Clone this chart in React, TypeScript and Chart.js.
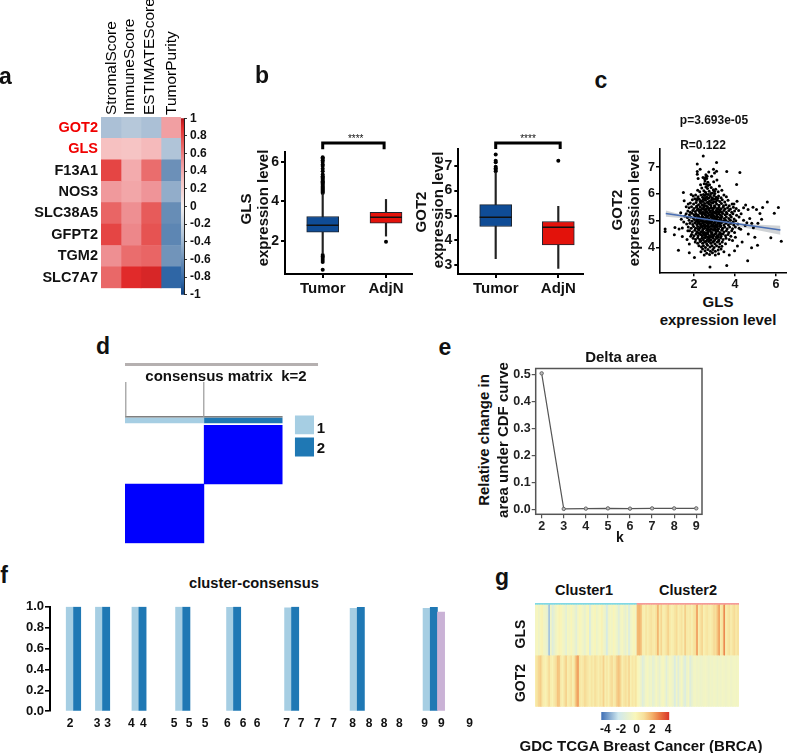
import { useEffect, useRef } from 'react';
import Chart from 'chart.js/auto';

Chart.defaults.font.family = '"Liberation Sans", Arial, sans-serif';
Chart.defaults.color = '#111';

// panel a: correlation with the ESTIMATE scores
const genes = ['GOT2', 'GLS', 'F13A1', 'NOS3', 'SLC38A5', 'GFPT2', 'TGM2', 'SLC7A7'];
const scoreNames = ['StromalScore', 'ImmuneScore', 'ESTIMATEScore', 'TumorPurity'];
const stromal = [-0.35, 0.3, 0.8, 0.48, 0.68, 0.8, 0.52, 0.67];
const immune = [-0.3, 0.28, 0.4, 0.42, 0.52, 0.55, 0.65, 0.9];
const estimate = [-0.35, 0.33, 0.65, 0.5, 0.72, 0.75, 0.68, 0.92];
const purity = [0.45, -0.33, -0.6, -0.45, -0.62, -0.66, -0.58, -0.85];
const corrTicks = [1, 0.8, 0.6, 0.4, 0.2, 0, -0.2, -0.4, -0.6, -0.8, -1];

// panel b: box plots, [low whisker, q1, median, q3, high whisker]
const boxGroups = ['Tumor', 'AdjN'];
const glsTumorBox = [1.38, 2.45, 2.8, 3.24, 4.38];
const glsAdjBox = [2.25, 2.9, 3.2, 3.45, 4.1];
const glsTumorOutliers = [0.55, 0.95, 1.05, 1.15, 1.22, 1.3, 4.42, 4.47, 4.52, 4.57, 4.62, 4.68, 4.73, 4.78, 4.84, 4.9, 4.96, 5.02, 5.08, 5.14, 5.2, 5.27, 5.36, 5.52, 5.64, 5.78, 5.86, 5.98, 6.08, 6.16, 6.22];
const glsAdjOutliers = [1.96];
const got2TumorBox = [3.27, 4.56, 4.93, 5.44, 6.72];
const got2AdjBox = [2.87, 3.82, 4.53, 4.76, 5.37];
const got2TumorOutliers = [6.78, 6.84, 6.9, 6.96, 7.14, 7.2, 7.45];
const got2AdjOutliers = [7.2];

// panel c: GLS against GOT2 per sample, [GLS, GOT2]
const samples = [
  [0.59, 4.69], [0.59, 4.6], [1.07, 4.75], [1.04, 4.47], [1.27, 4.69], [1.43, 4.73], [1.43, 4.41], [1.24, 3.89], [1.77, 4.13], [1.77, 3.8],
  [2.02, 3.62], [2.78, 3.27], [3.6, 3.32], [4.62, 3.5], [4.81, 3.99], [5.1, 4.08], [4.97, 4.38], [5.75, 4.36], [6.26, 4.23], [5.92, 5.28],
  [6.12, 5.49], [5.58, 5.7], [5.22, 5.27], [5.35, 5.49], [5.3, 5.05], [5.05, 5.42], [4.52, 5.59], [4.1, 5.73], [2.45, 7.42], [2.16, 7.12],
  [2.16, 6.84], [2.16, 6.74], [3.1, 7.18], [2.95, 6.92], [3.1, 6.85], [3, 6.78], [3.6, 6.84], [4.24, 6.8], [4.08, 6.35], [1.48, 6.05],
  [1.52, 5.75], [1.35, 5.3], [1.62, 5.52], [1.55, 5.18], [1.72, 5.62], [1.38, 5.05], [1.7, 4.62], [1.5, 4.95], [1.66, 4.3], [1.84, 4.42],
  [4.42, 5.48], [4.64, 5.42], [4.3, 5.26], [4.72, 5.08], [4.88, 5.5], [4.5, 4.82], [4.9, 4.74], [4.65, 4.5], [4.35, 4.2], [4.12, 4.05],
  [4.28, 4.68], [4.58, 4.92], [4.82, 4.9], [5.12, 4.9], [4.42, 5.02], [4.18, 5.38], [3.95, 5.62], [4.02, 4.38], [3.98, 3.88], [3.72, 3.72],
  [2.3, 6.92], [2.58, 6.72], [2.72, 6.82], [2.86, 6.66], [2.44, 6.62], [2.62, 6.58], [2.54, 6.48], [2.68, 6.44], [2.5, 6.38], [2.76, 6.34],
  [2.2, 6.58], [2.32, 6.34], [2.96, 6.46], [3.12, 6.52], [3.24, 6.3], [2.38, 6.22], [2.58, 6.26], [2.66, 6.2], [2.84, 6.24], [2.94, 6.16],
  [3.06, 6.18], [2.18, 6.14], [2.28, 6.08], [2.48, 6.12], [2.56, 6.06], [2.74, 6.1], [2.9, 6.04], [3.02, 6.02], [3.18, 6.08], [3.36, 6.14],
  [1.86, 5.98], [1.96, 5.92], [2.08, 5.96], [2.2, 5.9], [2.34, 5.96], [2.42, 5.88], [2.52, 5.94], [2.62, 5.9], [2.7, 5.98], [2.8, 5.92],
  [2.88, 5.86], [2.98, 5.94], [3.08, 5.88], [3.2, 5.92], [3.32, 5.86], [3.46, 5.96], [3.58, 5.9], [1.92, 5.78], [2.04, 5.82], [2.14, 5.76],
  [2.26, 5.8], [2.36, 5.74], [2.46, 5.8], [2.56, 5.76], [2.66, 5.82], [2.76, 5.74], [2.86, 5.78], [2.96, 5.72], [3.04, 5.8], [3.14, 5.76],
  [3.26, 5.72], [3.38, 5.78], [3.5, 5.7], [3.66, 5.76], [1.82, 5.66], [1.98, 5.62], [2.1, 5.68], [2.22, 5.6], [2.32, 5.66], [2.42, 5.58],
  [2.52, 5.64], [2.6, 5.56], [2.72, 5.62], [2.82, 5.58], [2.92, 5.66], [3, 5.56], [3.1, 5.62], [3.22, 5.58], [3.34, 5.64], [3.44, 5.56],
  [3.56, 5.6], [3.72, 5.56], [3.86, 5.62], [1.76, 5.48], [1.88, 5.52], [2, 5.46], [2.12, 5.5], [2.2, 5.44], [2.3, 5.52], [2.38, 5.46],
  [2.48, 5.5], [2.58, 5.44], [2.66, 5.52], [2.76, 5.46], [2.84, 5.5], [2.94, 5.44], [3.02, 5.52], [3.12, 5.46], [3.22, 5.5], [3.32, 5.44],
  [3.42, 5.5], [3.52, 5.44], [3.64, 5.48], [3.78, 5.44], [3.92, 5.5], [4.06, 5.46], [1.7, 5.36], [1.82, 5.32], [1.94, 5.38], [2.06, 5.34],
  [2.16, 5.4], [2.26, 5.34], [2.34, 5.38], [2.44, 5.32], [2.54, 5.38], [2.62, 5.34], [2.72, 5.4], [2.8, 5.32], [2.9, 5.38], [2.98, 5.32],
  [3.08, 5.38], [3.16, 5.34], [3.26, 5.4], [3.36, 5.32], [3.46, 5.38], [3.58, 5.32], [3.7, 5.38], [3.84, 5.32], [3.98, 5.36], [1.62, 5.26],
  [1.78, 5.22], [1.9, 5.28], [2, 5.22], [2.1, 5.26], [2.2, 5.2], [2.3, 5.28], [2.4, 5.22], [2.48, 5.27], [2.58, 5.2], [2.68, 5.28],
  [2.76, 5.22], [2.86, 5.26], [2.94, 5.2], [3.04, 5.28], [3.12, 5.22], [3.22, 5.26], [3.3, 5.2], [3.4, 5.27], [3.52, 5.22], [3.62, 5.26],
  [3.76, 5.2], [3.9, 5.26], [4.08, 5.2], [4.2, 5.14], [1.68, 5.12], [1.84, 5.14], [1.96, 5.1], [2.06, 5.16], [2.16, 5.1], [2.26, 5.14],
  [2.36, 5.08], [2.44, 5.14], [2.54, 5.1], [2.64, 5.16], [2.72, 5.08], [2.82, 5.14], [2.9, 5.1], [3, 5.16], [3.08, 5.08], [3.18, 5.14],
  [3.28, 5.1], [3.36, 5.16], [3.48, 5.08], [3.58, 5.14], [3.7, 5.08], [3.82, 5.14], [3.96, 5.06], [1.76, 5.02], [1.9, 4.98], [2.02, 5.04],
  [2.12, 4.98], [2.22, 5.04], [2.32, 4.98], [2.4, 5.02], [2.5, 4.96], [2.6, 5.04], [2.68, 4.98], [2.78, 5.02], [2.86, 4.96], [2.96, 5.04],
  [3.04, 4.98], [3.14, 5.02], [3.24, 4.96], [3.32, 5.04], [3.44, 4.98], [3.54, 5.02], [3.66, 4.96], [3.78, 5.02], [3.92, 4.96], [4.04, 5],
  [1.64, 4.88], [1.8, 4.9], [1.94, 4.86], [2.04, 4.92], [2.14, 4.86], [2.24, 4.9], [2.34, 4.84], [2.42, 4.9], [2.52, 4.86], [2.62, 4.92],
  [2.7, 4.84], [2.8, 4.9], [2.88, 4.86], [2.98, 4.92], [3.06, 4.84], [3.16, 4.9], [3.26, 4.86], [3.34, 4.92], [3.46, 4.84], [3.56, 4.9],
  [3.68, 4.84], [3.8, 4.9], [3.94, 4.84], [4.14, 4.88], [1.72, 4.76], [1.86, 4.72], [1.98, 4.78], [2.08, 4.72], [2.18, 4.78], [2.28, 4.72],
  [2.38, 4.76], [2.46, 4.7], [2.56, 4.78], [2.66, 4.72], [2.74, 4.76], [2.84, 4.7], [2.92, 4.78], [3.02, 4.72], [3.12, 4.76], [3.2, 4.7],
  [3.3, 4.78], [3.4, 4.72], [3.5, 4.76], [3.62, 4.7], [3.74, 4.76], [3.88, 4.7], [4.02, 4.76], [4.2, 4.72], [1.78, 4.62], [1.92, 4.58],
  [2.04, 4.64], [2.14, 4.58], [2.24, 4.64], [2.34, 4.58], [2.42, 4.62], [2.52, 4.56], [2.62, 4.64], [2.7, 4.58], [2.8, 4.62], [2.88, 4.56],
  [2.98, 4.64], [3.08, 4.58], [3.16, 4.62], [3.26, 4.56], [3.36, 4.64], [3.46, 4.58], [3.58, 4.62], [3.7, 4.56], [3.84, 4.62], [3.98, 4.56],
  [1.88, 4.48], [2, 4.44], [2.1, 4.5], [2.2, 4.44], [2.3, 4.5], [2.4, 4.44], [2.48, 4.48], [2.58, 4.42], [2.68, 4.5], [2.76, 4.44],
  [2.86, 4.48], [2.94, 4.42], [3.04, 4.5], [3.14, 4.44], [3.22, 4.48], [3.32, 4.42], [3.42, 4.5], [3.54, 4.44], [3.66, 4.48], [3.8, 4.42],
  [1.96, 4.34], [2.08, 4.3], [2.18, 4.36], [2.28, 4.3], [2.38, 4.34], [2.46, 4.28], [2.56, 4.36], [2.66, 4.3], [2.74, 4.34], [2.84, 4.28],
  [2.92, 4.36], [3.02, 4.3], [3.12, 4.34], [3.22, 4.28], [3.3, 4.36], [3.42, 4.3], [3.56, 4.34], [3.72, 4.3], [3.88, 4.26], [2.06, 4.2],
  [2.18, 4.16], [2.3, 4.22], [2.42, 4.16], [2.52, 4.2], [2.62, 4.14], [2.72, 4.22], [2.82, 4.16], [2.92, 4.2], [3.02, 4.14], [3.14, 4.2],
  [3.26, 4.14], [3.38, 4.2], [3.54, 4.14], [2.24, 4.06], [2.36, 4.02], [2.46, 4.06], [2.56, 4], [2.66, 4.08], [2.78, 4.02], [2.88, 4.06],
  [2.98, 4], [3.1, 4.06], [3.22, 4.02], [3.36, 4.04], [2.42, 3.94], [2.54, 3.88], [2.68, 3.92], [2.8, 3.86], [2.92, 3.92], [3.04, 3.86],
  [3.18, 3.9], [3.32, 3.94], [2.62, 3.78], [2.76, 3.74], [2.9, 3.8], [3.04, 3.72], [3.2, 3.76], [3.46, 3.84], [2.5, 3.72], [2.34, 3.84],
  [2.35, 5.04], [2.55, 5.22], [2.75, 4.94], [2.95, 5.32], [2.45, 4.8], [2.65, 4.66], [2.85, 5.18], [3.05, 4.66], [2.25, 4.96], [2.5, 5.56],
  [2.7, 5.7], [2.9, 5.46], [3.1, 5.06], [3.3, 4.82], [2.15, 5.02], [2.6, 4.5], [2.8, 4.4], [3, 4.78], [3.2, 5.3], [2.4, 5.6],
  [2.13, 5.55], [2.27, 5.41], [2.37, 5.29], [2.47, 5.43], [2.57, 5.31], [2.67, 5.47], [2.79, 5.35], [2.89, 5.25], [2.99, 5.49], [3.09, 5.31],
  [3.19, 5.43], [3.29, 5.33], [2.17, 5.19], [2.29, 5.09], [2.39, 5.15], [2.51, 5.05], [2.61, 5.13], [2.71, 5.19], [2.81, 5.03], [2.91, 5.17],
  [3.01, 5.09], [3.11, 5.17], [3.21, 5.03], [3.33, 5.11], [2.19, 4.93], [2.31, 4.87], [2.41, 4.97], [2.49, 4.83], [2.59, 4.95], [2.69, 4.89],
  [2.83, 4.97], [2.93, 4.85], [3.03, 4.93], [3.13, 4.83], [3.23, 4.91], [3.35, 4.97], [2.21, 4.69], [2.33, 4.79], [2.43, 4.67], [2.53, 4.73],
  [2.63, 4.81], [2.73, 4.67], [2.83, 4.79], [2.93, 4.67], [3.03, 4.81], [3.15, 4.67], [3.25, 4.79], [3.37, 4.67], [2.23, 4.53], [2.35, 4.47],
  [2.45, 4.55], [2.55, 4.47], [2.65, 4.55], [2.73, 4.39], [2.85, 4.55], [2.97, 4.47], [3.07, 4.53], [3.19, 4.39], [3.31, 4.51], [2.33, 4.25],
  [2.49, 4.37], [2.59, 4.23], [2.69, 4.39], [2.79, 4.27], [2.89, 4.39], [2.99, 4.25], [3.09, 4.39], [3.19, 4.23], [2.44, 5.72], [2.54, 5.84],
  [2.64, 5.68], [2.74, 5.86], [2.84, 5.68], [2.94, 5.82], [3.06, 5.7], [3.16, 5.84], [2.3, 5.72], [2.18, 5.84], [2.6, 6], [2.82, 6.02],
  [2.46, 5.98], [3, 6.1], [2.68, 6.32], [2.6, 6.36], [2.52, 6.56], [2.56, 6.62], [2.64, 6.66],
];
const fitLine = [[0.62, 5.27], [6.22, 4.65]];
const fitUpper = [[0.62, 5.38], [1.5, 5.2], [2.8, 5.04], [4, 4.92], [5, 4.86], [6.22, 4.81]];
const fitLower = [[0.62, 5.15], [1.5, 5.09], [2.8, 4.98], [4, 4.8], [5, 4.66], [6.22, 4.47]];

// panel e: consensus delta area
const deltaK = [2, 3, 4, 5, 6, 7, 8, 9];
const deltaArea = [0.505, 0.002, 0.003, 0.004, 0.003, 0.004, 0.004, 0.004];

// panel f: cluster consensus, bar positions are in bar widths from the axis
const clusterSlots = [2.75, 3.77, 6.81, 7.8, 11.88, 12.85, 17.94, 18.94, 25.02, 25.99, 33.08, 34.05, 42.18, 43.17, 52.31, 53.31, 54.31];
const clusterConsensus = [1, 1, 1, 1, 1, 1, 1, 1, 0.995, 1, 0.99, 1, 0.985, 0.995, 0.985, 0.995, 0.95];
const clusterIds = [1, 2, 1, 2, 1, 2, 1, 2, 1, 2, 1, 2, 1, 2, 1, 2, 3];
const kTickSlots = [2.78, 6.53, 7.99, 11.3, 12.96, 17.22, 19.31, 21.53, 24.63, 26.81, 28.75, 32.87, 34.86, 37.13, 39.4, 42.04, 44.31, 46.39, 48.52, 52.03, 54.35, 58.29];
const kTickLabels = ['2', '3', '3', '4', '4', '5', '5', '5', '6', '6', '6', '7', '7', '7', '7', '8', '8', '8', '8', '9', '9', '9'];

// panel g: z-scored expression per sample group
const glsCluster1 = [-0.3, -0.1, -0.5, 0.1, 0.2, -0.4, -0.5, -0.9, -2.6, -0.4, -1.3, -0.8, -0.4, -0.1, 0.2, 0.1, -0.3, -0.5, -1, -0.2, -0.4, 0.1, -0.3, -0.6, -1.1, -0.3, 0.1, -0.2, -0.5, -0.8, -0.3, 0.1, -1.5, -0.4, -0.2, 0.1, -0.6, -0.3, -0.1, 0.2, -0.4, -0.7, -1.6, -0.5, -0.2, -0.4, 0.1, -0.3, -0.6, -1.2, -0.4, -0.2, -0.5, -0.9, -0.3, -1.4, -0.5, -0.2, 0.1, -0.4];
const glsCluster2 = [1.8, 1.9, 1.7, 0.5, 0.3, 0.8, 0.4, 0.7, 0.9, 0.6, 0.5, 1, 1.9, 0.6, 1.2, 0.4, 0.5, 0.9, 1.3, 0.7, 0.3, 0.5, 0.8, 1.1, 0.4, 0.6, 0.9, 0.4, 1.4, 0.6, 0.5, 0.7, 0.3, 0.8, 1, 2.3, 0.4, 0.9, 1.2, 0.3, 0.6, 0.8, 0.5, 0.4, 0.7, 1.1, 1, 1.6, 2.2, 0.5, 0.9, 2.6, 0.4, 0.7, 1, 0.5, 0.8, 1.1, 0.6, 0.9];
const got2Cluster1 = [0.5, 0.9, 1.2, 1.4, 0.7, 0.4, 0.2, 0.6, 1.1, 0.4, 0.2, 0.7, 0.9, 1.6, 1.5, 0.5, 0.3, 0.9, 1.3, 0.4, 0.6, 1, 0.3, 0.9, 1.9, 2.3, 0.8, 0.5, 0.7, 1.1, 0.9, 0.6, 0.4, 0.8, 0.5, 1, 0.7, 0.4, 0.8, 0.6, 1.3, 0.4, 0.7, 0.3, 0.9, 1.1, 0.5, 0.8, 1.4, 1.6, 1.2, 0.4, 0.7, 1, 0.6, 1.2, 0.3, 0.7, 0.5, 0.8];
const got2Cluster2 = [0.1, -0.2, -0.5, -1.3, -0.8, -0.3, -0.2, -0.6, -0.4, -1, -0.7, -0.2, -0.5, -0.9, -0.3, -0.1, -0.4, -1.2, -0.5, -0.2, -0.4, -0.7, -1.5, -0.4, -1.3, -0.5, -0.2, -0.9, -1.4, -0.6, -0.3, -1.3, -0.8, -0.4, -0.3, -0.5, -0.4, -0.6, -0.5, -0.4, -0.3, -0.5, -0.6, -0.4, -0.5, -0.3, -0.4, -0.6, -0.4, -0.5, -0.3, -0.4, -0.5, -0.4, -0.3, -0.5, -0.4, -0.3, -0.4, -0.3];
const zTicks = [-4, -2, 0, 2, 4];

const corrStops: [number, string][] = [[-1, '#0f3f7c'], [-0.85, '#2f66a5'], [-0.6, '#6c90b8'], [-0.33, '#b0c4d8'], [0, '#f2eeee'], [0.3, '#f6c1c1'], [0.5, '#ef9498'], [0.7, '#e8605f'], [0.9, '#e12a2a'], [1, '#b0141a']];
const zStops: [number, string][] = [[-4, '#3f6fb5'], [-2, '#cfe8ee'], [0, '#f9f7bb'], [1, '#f7e09c'], [2, '#f3b06a'], [3, '#e8703f'], [4, '#d9352a']];

function rampColor(stops: [number, string][], v: number) {
  const rgb = (hex: string) => [1, 3, 5].map(i => parseInt(hex.slice(i, i + 2), 16));
  for (let i = 1; i < stops.length; i++) {
    if (v <= stops[i][0]) {
      const t = Math.max(0, (v - stops[i - 1][0]) / (stops[i][0] - stops[i - 1][0]));
      const a = rgb(stops[i - 1][1]);
      const b = rgb(stops[i][1]);
      return `rgb(${a.map((c, k) => Math.round(c + (b[k] - c) * t)).join(',')})`;
    }
  }
  return stops[stops.length - 1][1];
}

// gradient through a ramp's stops, measured along the chart area
function rampFill(stops: [number, string][], vertical: boolean) {
  return (ctx: any) => {
    const area = ctx.chart.chartArea;
    if (!area) return stops[0][1];
    const g = vertical
      ? ctx.chart.ctx.createLinearGradient(0, area.bottom, 0, area.top)
      : ctx.chart.ctx.createLinearGradient(area.left, 0, area.right, 0);
    const lo = stops[0][0];
    const hi = stops[stops.length - 1][0];
    stops.forEach(([v, c]) => g.addColorStop((v - lo) / (hi - lo), c));
    return g;
  };
}

type Box = { left: number; top: number; width: number; height: number };
type Plot = { l: number; t: number; r: number; b: number };

// canvas box plus wanted plot area -> padding; axis sides get 0 and are sized with afterFit
function layoutFor(box: Box, plot: Plot, axes: string[]) {
  const side = (name: string, px: number) => (axes.includes(name) ? 0 : px);
  return {
    autoPadding: false,
    padding: {
      left: side('left', plot.l - box.left),
      top: side('top', plot.t - box.top),
      right: side('right', box.left + box.width - plot.r),
      bottom: side('bottom', box.top + box.height - plot.b),
    },
  };
}
const fitWidth = (px: number) => (s: any) => { s.width = px; };
const fitHeight = (px: number) => (s: any) => { s.height = px; };
const fixedTicks = (values: number[]) => (s: any) => { s.ticks = values.map(value => ({ value })); };

const boldTicks = (size: number, extra = {}) => ({ font: { size, weight: 'bold' as const }, color: '#111', autoSkip: false, maxRotation: 0, ...extra });
const axisLine = (width = 2) => ({ display: true, color: '#000', width });
const tickMarks = (length = 5, width = 2) => ({ drawOnChartArea: false, drawTicks: true, tickLength: length, lineWidth: width, tickColor: '#000' });
const noGrid = { display: false, drawTicks: false };

const frameBox = {
  id: 'frameBox',
  afterDraw(chart: any) {
    const { ctx, chartArea: a } = chart;
    ctx.save();
    ctx.strokeStyle = '#555';
    ctx.lineWidth = 1.5;
    ctx.strokeRect(a.left, a.top, a.right - a.left, a.bottom - a.top);
    ctx.restore();
  },
};

// ---- panel a ----
const heatBox = { left: 0, top: 0, width: 182, height: 300 };
const heatPlot = { l: 101, t: 117, r: 181, b: 296 };
function heatConfig(): any {
  const columns = [stromal, immune, estimate, purity];
  return {
    type: 'bar',
    data: {
      labels: genes,
      datasets: columns.map((values, i) => ({
        label: scoreNames[i],
        data: values.map(() => 1),
        backgroundColor: values.map(v => rampColor(corrStops, v)),
        barPercentage: 1,
        categoryPercentage: 1,
      })),
    },
    options: {
      indexAxis: 'y',
      responsive: false,
      animation: false,
      layout: layoutFor(heatBox, heatPlot, ['left', 'top']),
      plugins: { legend: { display: false }, tooltip: { enabled: false } },
      scales: {
        x: {
          type: 'linear',
          position: 'top',
          stacked: true,
          min: 0,
          max: 4,
          afterFit: fitHeight(heatPlot.t - heatBox.top),
          afterBuildTicks: fixedTicks([0.45, 1.35, 2.35, 3.45]),
          grid: noGrid,
          border: { display: false },
          ticks: { callback: (_: any, i: number) => scoreNames[i], font: { size: 15.5 }, color: '#000', minRotation: 90, maxRotation: 90, autoSkip: false, padding: 2, labelOffset: 20 },
        },
        y: {
          stacked: true,
          afterFit: fitWidth(heatPlot.l - heatBox.left),
          grid: noGrid,
          border: { display: false },
          ticks: { font: { size: 14.5, weight: 'bold' }, color: (c: any) => (c.index < 2 ? '#f00000' : '#111'), padding: 3, autoSkip: false },
        },
      },
    },
  };
}

const corrBarBox = { left: 175, top: 108, width: 50, height: 197 };
const corrBarPlot = { l: 181, t: 116.7, r: 184, b: 295.3 };
function corrBarConfig(): any {
  return {
    type: 'bar',
    data: {
      labels: ['r'],
      datasets: [{ data: [[-1, 1]], backgroundColor: rampFill(corrStops, true), barPercentage: 1, categoryPercentage: 1 }],
    },
    options: {
      responsive: false,
      animation: false,
      layout: layoutFor(corrBarBox, corrBarPlot, ['right']),
      plugins: { legend: { display: false }, tooltip: { enabled: false } },
      scales: {
        x: { display: false },
        y: {
          position: 'right',
          min: -1,
          max: 1,
          afterFit: fitWidth(corrBarBox.left + corrBarBox.width - corrBarPlot.r),
          afterBuildTicks: fixedTicks(corrTicks),
          grid: { drawOnChartArea: false, drawTicks: true, tickLength: 3, lineWidth: 1, tickColor: '#333' },
          border: { display: true, color: '#222', width: 1 },
          ticks: boldTicks(12, { padding: 3, callback: (v: number) => String(v) }),
        },
      },
    },
  };
}

// ---- panel b ----
function boxConfig(
  box: Box,
  plot: Plot,
  pxPerGroup: number,
  groupOneX: number,
  yRange: number[],
  yTicks: number[],
  tumor: number[],
  adj: number[],
  tumorOut: number[],
  adjOut: number[],
  bracket: number[][],
): any {
  const groups = [1, 2];
  const stats = [tumor, adj];
  return {
    type: 'bar',
    data: {
      datasets: [
        {
          type: 'scatter',
          data: stats.map((s, i) => ({ x: groups[i], y: s[2] })),
          pointStyle: 'line',
          pointRadius: 16,
          pointBorderWidth: 1.5,
          pointBorderColor: '#111',
          order: 0,
        },
        {
          data: stats.map((s, i) => ({ x: groups[i], y: [s[1], s[3]] })),
          backgroundColor: ['#0f4c96', '#e3120b'],
          borderColor: '#1c2430',
          borderWidth: 1,
          borderSkipped: false,
          barThickness: 32,
          grouped: false,
          order: 1,
        },
        {
          data: stats.map((s, i) => ({ x: groups[i], y: [s[0], s[4]] })),
          backgroundColor: '#222',
          barThickness: 1.5,
          grouped: false,
          order: 2,
        },
        {
          type: 'scatter',
          data: [...tumorOut.map(y => ({ x: 1, y })), ...adjOut.map(y => ({ x: 2, y }))],
          pointRadius: 2,
          pointBackgroundColor: '#000',
          pointBorderWidth: 0,
          order: 3,
        },
        {
          type: 'line',
          data: bracket.map(([x, y]) => ({ x, y })),
          borderColor: '#000',
          borderWidth: 3,
          borderJoinStyle: 'miter',
          pointRadius: 0,
          clip: false,
          order: 4,
        },
      ],
    },
    options: {
      responsive: false,
      animation: false,
      layout: layoutFor(box, plot, ['left', 'bottom']),
      plugins: { legend: { display: false }, tooltip: { enabled: false } },
      scales: {
        x: {
          type: 'linear',
          offset: false,
          min: 1 - (groupOneX - plot.l) / pxPerGroup,
          max: 1 + (plot.r - groupOneX) / pxPerGroup,
          afterFit: fitHeight(box.top + box.height - plot.b),
          afterBuildTicks: fixedTicks(groups),
          grid: { ...tickMarks(4, 2), offset: false },
          border: axisLine(2),
          ticks: boldTicks(15, { padding: 2, callback: (_: any, i: number) => boxGroups[i] }),
        },
        y: {
          min: yRange[0],
          max: yRange[1],
          afterFit: fitWidth(plot.l - box.left),
          afterBuildTicks: fixedTicks(yTicks),
          grid: tickMarks(4, 2),
          border: axisLine(2),
          ticks: boldTicks(14, { padding: 2, callback: (v: number) => String(v) }),
        },
      },
    },
  };
}
const glsBoxBox = { left: 240, top: 130, width: 175, height: 170 };
const glsBoxPlot = { l: 285, t: 152, r: 412, b: 274 };
const got2BoxBox = { left: 415, top: 130, width: 172, height: 170 };
const got2BoxPlot = { l: 458.3, t: 149.3, r: 583, b: 274 };
const glsBracket = [[1, 6.63], [1, 6.94], [1.97, 6.94], [1.97, 6.63]];
const got2Bracket = [[1, 7.67], [1, 7.91], [2.03, 7.91], [2.03, 7.67]];

// ---- panel c ----
const scatterBox = { left: 640, top: 140, width: 147, height: 152 };
const scatterPlot = { l: 660, t: 146.7, r: 787, b: 272.3 };
function scatterConfig(): any {
  const toXY = (rows: number[][]) => rows.map(([x, y]) => ({ x, y }));
  return {
    type: 'scatter',
    data: {
      datasets: [
        { type: 'line', data: toXY(fitLine), borderColor: '#4a6fb5', borderWidth: 1.5, pointRadius: 0, order: 0 },
        { data: toXY(samples), pointRadius: 1.5, pointBackgroundColor: '#000', pointBorderWidth: 0, order: 1 },
        { type: 'line', data: toXY(fitUpper), borderWidth: 0, pointRadius: 0, fill: '+1', backgroundColor: 'rgba(170,175,180,0.55)', order: 2 },
        { type: 'line', data: toXY(fitLower), borderWidth: 0, pointRadius: 0, order: 3 },
      ],
    },
    options: {
      responsive: false,
      animation: false,
      layout: layoutFor(scatterBox, scatterPlot, ['left', 'bottom']),
      plugins: { legend: { display: false }, tooltip: { enabled: false } },
      scales: {
        x: {
          min: 0.34,
          max: 6.54,
          afterFit: fitHeight(scatterBox.top + scatterBox.height - scatterPlot.b),
          afterBuildTicks: fixedTicks([2, 4, 6]),
          grid: tickMarks(4, 1.5),
          border: axisLine(1.6),
          ticks: boldTicks(12.5, { padding: 1, callback: (v: number) => String(v) }),
        },
        y: {
          min: 3.07,
          max: 7.7,
          afterFit: fitWidth(scatterPlot.l - scatterBox.left),
          afterBuildTicks: fixedTicks([4, 5, 6, 7]),
          grid: tickMarks(4, 1.5),
          border: axisLine(1.6),
          ticks: boldTicks(12.5, { padding: 1, callback: (v: number) => String(v) }),
        },
      },
    },
  };
}

// ---- panel d ----
const matrixBox = { left: 120, top: 358, width: 202, height: 190 };
const matrixPlot = { l: 125, t: 360, r: 320, b: 543.3 };
function matrixConfig(): any {
  const bar = (x: number, range: number[], color: string, thickness: number) => ({
    data: [{ x, y: range }],
    backgroundColor: color,
    barThickness: thickness,
    grouped: false,
  });
  const line = (points: number[][], color: string, width: number) => ({
    type: 'line',
    data: points.map(([x, y]) => ({ x, y })),
    borderColor: color,
    borderWidth: width,
    pointRadius: 0,
  });
  return {
    type: 'bar',
    data: {
      datasets: [
        bar(0.5, [0, 1], '#0000fe', 79),
        bar(1.5, [1, 1.99], '#0000fe', 78),
        bar(0.5, [2.03, 2.11], '#a6cee3', 79),
        bar(1.5, [2.03, 2.11], '#1f78b4', 78),
        bar(2.278, [1.843, 2.147], '#a6cee3', 18.4),
        bar(2.278, [1.467, 1.776], '#1f78b4', 18.4),
        line([[0.01, 2.13], [0.01, 2.72]], '#999', 1.2),
        line([[1, 2.13], [1, 2.72]], '#999', 1.2),
        line([[0, 2.13], [2, 2.13]], '#555', 1.2),
        line([[0, 3.015], [2.45, 3.015]], '#b5b0b0', 3),
      ],
    },
    options: {
      responsive: false,
      animation: false,
      layout: layoutFor(matrixBox, matrixPlot, []),
      plugins: { legend: { display: false }, tooltip: { enabled: false } },
      scales: {
        x: { type: 'linear', display: false, offset: false, min: 0, max: 2.475 },
        y: { display: false, min: 0, max: 3.09 },
      },
    },
  };
}

// ---- panel e ----
const deltaBox = { left: 510, top: 360, width: 196, height: 170 };
const deltaPlot = { l: 535.7, t: 367.3, r: 702, b: 514.3 };
function deltaConfig(): any {
  return {
    type: 'line',
    data: {
      datasets: [{
        data: deltaK.map((k, i) => ({ x: k, y: deltaArea[i] })),
        borderColor: '#555',
        borderWidth: 1.2,
        pointRadius: 1.7,
        pointBorderColor: '#666',
        pointBackgroundColor: '#bbb',
        pointBorderWidth: 1,
      }],
    },
    options: {
      responsive: false,
      animation: false,
      layout: layoutFor(deltaBox, deltaPlot, ['left', 'bottom']),
      plugins: { legend: { display: false }, tooltip: { enabled: false } },
      scales: {
        x: {
          type: 'linear',
          min: 1.73,
          max: 9.26,
          afterFit: fitHeight(deltaBox.top + deltaBox.height - deltaPlot.b),
          afterBuildTicks: fixedTicks(deltaK),
          grid: { drawOnChartArea: false, tickLength: 4, lineWidth: 1.2, tickColor: '#555' },
          border: { display: false },
          ticks: boldTicks(12.5, { padding: 1, color: '#222', callback: (v: number) => String(v) }),
        },
        y: {
          min: -0.018,
          max: 0.523,
          afterFit: fitWidth(deltaPlot.l - deltaBox.left),
          afterBuildTicks: fixedTicks([0, 0.1, 0.2, 0.3, 0.4, 0.5]),
          grid: { drawOnChartArea: false, tickLength: 4, lineWidth: 1.2, tickColor: '#555' },
          border: { display: false },
          ticks: boldTicks(12.5, { padding: 1, color: '#222', callback: (v: number) => v.toFixed(1) }),
        },
      },
    },
    plugins: [frameBox],
  };
}

// ---- panel f ----
const clusterColors: Record<number, string> = { 1: '#a6cee3', 2: '#1f78b4', 3: '#cab2d6' };
const clusterBox = { left: 0, top: 598, width: 490, height: 140 };
const clusterPlot = { l: 50, t: 605, r: 480, b: 711.3 };
function clusterConfig(): any {
  return {
    type: 'bar',
    data: {
      datasets: [{
        data: clusterSlots.map((x, i) => ({ x, y: clusterConsensus[i] })),
        backgroundColor: clusterIds.map(id => clusterColors[id]),
        barThickness: 7.2,
      }],
    },
    options: {
      responsive: false,
      animation: false,
      layout: layoutFor(clusterBox, clusterPlot, ['left', 'bottom']),
      plugins: { legend: { display: false }, tooltip: { enabled: false } },
      scales: {
        x: {
          type: 'linear',
          offset: false,
          min: 0,
          max: 59.72,
          afterFit: fitHeight(clusterBox.top + clusterBox.height - clusterPlot.b),
          afterBuildTicks: fixedTicks(kTickSlots),
          grid: { ...noGrid, offset: false },
          border: { display: false },
          ticks: boldTicks(12, { padding: 5, callback: (_: any, i: number) => kTickLabels[i] }),
        },
        y: {
          min: 0,
          max: 1,
          afterFit: fitWidth(clusterPlot.l - clusterBox.left),
          afterBuildTicks: fixedTicks([0, 0.2, 0.4, 0.6, 0.8, 1]),
          grid: tickMarks(5, 1.6),
          border: axisLine(2),
          ticks: boldTicks(13, { padding: 1, callback: (v: number) => v.toFixed(1) }),
        },
      },
    },
  };
}

// ---- panel g ----
const stripeBox = { left: 530, top: 600, width: 214, height: 110 };
const stripePlot = { l: 535, t: 603, r: 739, b: 706.7 };
function stripeConfig(): any {
  const gls = [...glsCluster1, ...glsCluster2];
  const got2 = [...got2Cluster1, ...got2Cluster2];
  const common = { barPercentage: 1, categoryPercentage: 1 };
  return {
    type: 'bar',
    data: {
      labels: gls.map((_, i) => String(i + 1)),
      datasets: [
        { label: 'GOT2', data: got2.map(() => 1), backgroundColor: got2.map(v => rampColor(zStops, v)), ...common },
        { label: 'GLS', data: gls.map(() => 1), backgroundColor: gls.map(v => rampColor(zStops, v)), ...common },
        {
          label: 'cluster',
          data: gls.map(() => 0.04),
          backgroundColor: gls.map((_, i) => (i < glsCluster1.length ? '#7fd8e6' : '#f59a9a')),
          ...common,
        },
      ],
    },
    options: {
      responsive: false,
      animation: false,
      layout: layoutFor(stripeBox, stripePlot, []),
      plugins: { legend: { display: false }, tooltip: { enabled: false } },
      scales: {
        x: { display: false, stacked: true },
        y: { display: false, stacked: true, min: 0, max: 2.04 },
      },
    },
  };
}

const zBarBox = { left: 590, top: 708, width: 90, height: 30 };
const zBarPlot = { l: 601.3, t: 712, r: 669.3, b: 720 };
function zBarConfig(): any {
  return {
    type: 'bar',
    data: {
      labels: ['z'],
      datasets: [{ data: [[-4.51, 4.17]], backgroundColor: rampFill(zStops, false), barPercentage: 1, categoryPercentage: 1 }],
    },
    options: {
      indexAxis: 'y',
      responsive: false,
      animation: false,
      layout: layoutFor(zBarBox, zBarPlot, ['bottom']),
      plugins: { legend: { display: false }, tooltip: { enabled: false } },
      scales: {
        x: {
          min: -4.51,
          max: 4.17,
          afterFit: fitHeight(zBarBox.top + zBarBox.height - zBarPlot.b),
          afterBuildTicks: fixedTicks(zTicks),
          grid: noGrid,
          border: { display: false },
          ticks: boldTicks(12, { padding: 2, callback: (v: number) => String(v) }),
        },
        y: { display: false },
      },
    },
  };
}

const panels: { box: Box; make: () => any }[] = [
  { box: heatBox, make: heatConfig },
  { box: corrBarBox, make: corrBarConfig },
  { box: glsBoxBox, make: () => boxConfig(glsBoxBox, glsBoxPlot, 63.3, 322.7, [0.34, 6.49], [2, 4, 6], glsTumorBox, glsAdjBox, glsTumorOutliers, glsAdjOutliers, glsBracket) },
  { box: got2BoxBox, make: () => boxConfig(got2BoxBox, got2BoxPlot, 62.6, 495.7, [2.65, 7.66], [3, 4, 5, 6, 7], got2TumorBox, got2AdjBox, got2TumorOutliers, got2AdjOutliers, got2Bracket) },
  { box: scatterBox, make: scatterConfig },
  { box: matrixBox, make: matrixConfig },
  { box: deltaBox, make: deltaConfig },
  { box: clusterBox, make: clusterConfig },
  { box: stripeBox, make: stripeConfig },
  { box: zBarBox, make: zBarConfig },
];

// text outside the plots, placed by its centre
const notes: { text: string; x: number; y: number; size: number; turn?: boolean; weight?: string }[] = [
  { text: 'a', x: 5.5, y: 76, size: 23 },
  { text: 'b', x: 262, y: 75, size: 23 },
  { text: 'c', x: 601, y: 80, size: 23 },
  { text: 'd', x: 103, y: 346, size: 23 },
  { text: 'e', x: 445, y: 347, size: 23 },
  { text: 'f', x: 4, y: 575, size: 23 },
  { text: 'g', x: 502, y: 577, size: 23 },
  { text: '****', x: 355.7, y: 139, size: 10, weight: 'normal' },
  { text: '****', x: 528, y: 139, size: 10, weight: 'normal' },
  { text: 'GLS', x: 245, y: 209, size: 15, turn: true },
  { text: 'expression level', x: 261.5, y: 208, size: 15, turn: true },
  { text: 'GOT2', x: 419.5, y: 212, size: 15, turn: true },
  { text: 'expression level', x: 436.5, y: 210, size: 15, turn: true },
  { text: 'p=3.693e-05', x: 714, y: 120, size: 12 },
  { text: 'R=0.122', x: 703, y: 145, size: 12 },
  { text: 'GOT2', x: 616, y: 210, size: 15, turn: true },
  { text: 'expression level', x: 632.5, y: 208, size: 15, turn: true },
  { text: 'GLS', x: 718, y: 301, size: 15 },
  { text: 'expression level', x: 718, y: 319, size: 15 },
  { text: 'consensus matrix  k=2', x: 226, y: 375, size: 15 },
  { text: '1', x: 321, y: 427, size: 15 },
  { text: '2', x: 321, y: 447, size: 15 },
  { text: 'Delta area', x: 621, y: 356, size: 15 },
  { text: 'Relative change in', x: 483, y: 440, size: 15, turn: true },
  { text: 'area under CDF curve', x: 502, y: 440, size: 15, turn: true },
  { text: 'k', x: 620, y: 537, size: 14 },
  { text: 'cluster-consensus', x: 254, y: 583, size: 14.7 },
  { text: 'Cluster1', x: 584, y: 590, size: 14.5 },
  { text: 'Cluster2', x: 688, y: 590, size: 14.5 },
  { text: 'GLS', x: 520, y: 634, size: 14, turn: true },
  { text: 'GOT2', x: 520, y: 683, size: 14, turn: true },
  { text: 'GDC TCGA Breast Cancer (BRCA)', x: 641, y: 745, size: 15 },
];

function ChartPanel({ box, make }: { box: Box; make: () => any }) {
  const ref = useRef<HTMLCanvasElement | null>(null);

  useEffect(() => {
    if (!ref.current) return;
    const chart = new Chart(ref.current, make());
    return () => chart.destroy();
  }, [make]);

  return (
    <canvas
      ref={ref}
      width={box.width}
      height={box.height}
      style={{ position: 'absolute', left: box.left, top: box.top, width: box.width, height: box.height }}
    />
  );
}

export default function App() {
  return (
    <div style={{ position: 'absolute', left: 0, top: 0, width: 787, height: 753, overflow: 'hidden', background: '#fff', fontFamily: '"Liberation Sans", Arial, sans-serif', color: '#111' }}>
      {panels.map((p, i) => <ChartPanel key={i} box={p.box} make={p.make} />)}
      {notes.map((n, i) => (
        <div
          key={i}
          style={{
            position: 'absolute',
            left: n.x,
            top: n.y,
            fontSize: n.size,
            fontWeight: n.weight ?? 'bold',
            lineHeight: 1,
            whiteSpace: 'pre',
            transform: `translate(-50%, -50%)${n.turn ? ' rotate(-90deg)' : ''}`,
          }}
        >
          {n.text}
        </div>
      ))}
    </div>
  );
}
